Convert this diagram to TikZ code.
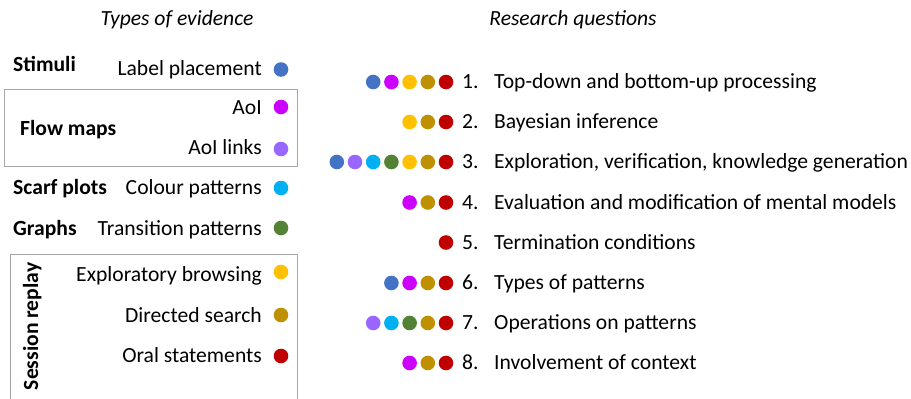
\documentclass[tikz,border=0pt]{standalone}
\usepackage{fontspec}
\setmainfont{Carlito}
\usepackage{tikz}
\definecolor{cB}{HTML}{4472C4}
\definecolor{cM}{HTML}{CC00FF}
\definecolor{cL}{HTML}{9966FF}
\definecolor{cC}{HTML}{00B0F0}
\definecolor{cG}{HTML}{548235}
\definecolor{cY}{HTML}{FFC000}
\definecolor{cO}{HTML}{BF9000}
\definecolor{cR}{HTML}{C00000}
\definecolor{boxgray}{HTML}{A6A6A6}
\newcommand{\bodysize}{\fontsize{21.6}{25}\selectfont}
\tikzstyle{dot}=[circle,minimum size=14.6pt,inner sep=0pt]
\tikzstyle{evid}=[anchor=base east,inner sep=0pt]
\tikzstyle{kind}=[anchor=base west,inner sep=0pt,font=\bodysize\bfseries]
\tikzstyle{qnum}=[anchor=base west,inner sep=0pt]
\tikzstyle{title}=[anchor=base,inner sep=0pt,font=\bodysize\itshape]
\tikzstyle{frame}=[draw=boxgray,line width=1pt]
% #1 number, #2 y of the row, #3 colours from right to left, #4 question
\newcommand{\question}[4]{%
  \node[qnum] (N#1) at (462,#2+6.8) {#1.};
  \node[qnum] (Q#1) at (494,#2+6.8) {#4};
  \foreach \c [count=\i] in {#3} {\node[dot,fill=\c] (D#1\i) at (464.2-18.2*\i,#2) {};}
}

\begin{document}
\begin{tikzpicture}[x=1pt,y=-1pt,font=\bodysize]
  \useasboundingbox (0,0) rectangle (911,399);
  \node[title] (TE) at (177,25) {Types of evidence};
  \node[title] (TR) at (573,25) {Research questions};
  % boxes
  \draw[frame] (4,89) rectangle (297,166);
  \draw[frame] (10,399.5) -- (10,254) -- (297,254) -- (297,399.5);
  % kinds of evidence
  \node[kind] (K1) at (13,71) {Stimuli};
  \node[kind] (K2) at (20,135) {Flow maps};
  \node[kind] (K3) at (13,194) {Scarf plots};
  \node[kind] (K4) at (13,235) {Graphs};
  \node[kind,rotate=90,anchor=base] (K5) at (38,326.5) {Session replay};
  % evidence
  \node[evid] (E1) at (262,75) {Label placement};
  \node[dot,fill=cB] (P1) at (281,69.5) {};
  \node[evid] (E2) at (262,114) {AoI};
  \node[dot,fill=cM] (P2) at (281,107) {};
  \node[evid] (E3) at (262,154) {AoI links};
  \node[dot,fill=cL] (P3) at (281,149) {};
  \node[evid] (E4) at (262,194) {Colour patterns};
  \node[dot,fill=cC] (P4) at (281,188) {};
  \node[evid] (E5) at (262,235) {Transition patterns};
  \node[dot,fill=cG] (P5) at (281,228) {};
  \node[evid] (E6) at (262,281) {Exploratory browsing};
  \node[dot,fill=cY] (P6) at (281,272) {};
  \node[evid] (E7) at (262,322) {Directed search};
  \node[dot,fill=cO] (P7) at (281,315) {};
  \node[evid] (E8) at (262,362) {Oral statements};
  \node[dot,fill=cR] (P8) at (281,356) {};
  % research questions
  \question{1}{82}{cR,cO,cY,cM,cB}{Top-down and bottom-up processing}
  \question{2}{122}{cR,cO,cY}{Bayesian inference}
  \question{3}{162}{cR,cO,cY,cG,cC,cL,cB}{Exploration, verification, knowledge generation}
  \question{4}{202.5}{cR,cO,cM}{Evaluation and modification of mental models}
  \question{5}{242.5}{cR}{Termination conditions}
  \question{6}{283}{cR,cO,cM,cB}{Types of patterns}
  \question{7}{323}{cR,cO,cG,cC,cL}{Operations on patterns}
  \question{8}{363}{cR,cO,cM}{Involvement of context}
\end{tikzpicture}
\end{document}
